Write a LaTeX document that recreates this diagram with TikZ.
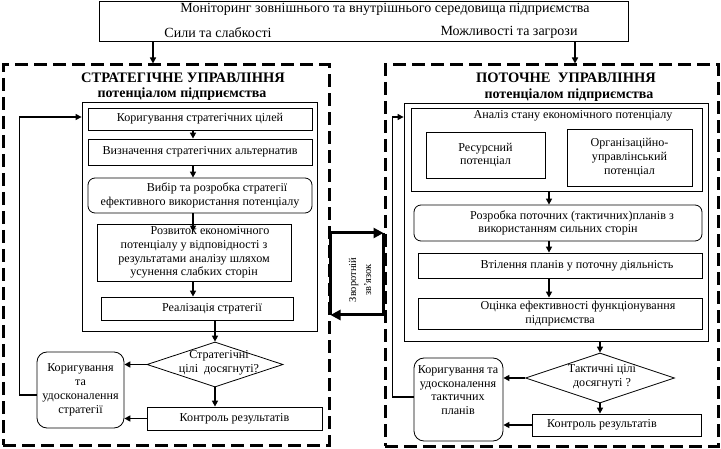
\documentclass[tikz,border=0pt]{standalone}
\usepackage{fontspec}
\setmainfont{Liberation Serif}
\usetikzlibrary{shapes.geometric,arrows.meta,calc}
\newcommand\bodyf{\fontsize{12.1}{13.8}\selectfont}
\newcommand\topf{\fontsize{14}{16}\selectfont}
\newcommand\titf{\fontsize{14.5}{16}\selectfont\bfseries}
\newcommand\subf{\fontsize{14}{15}\selectfont\bfseries}
\newcommand\fbf{\fontsize{10.5}{15}\selectfont}
\begin{document}
\begin{tikzpicture}[x=1pt,y=-1pt,
  box/.style={draw, line width=0.8pt, inner sep=0pt, align=center, font=\bodyf},
  rbox/.style={box, rounded corners=7pt},
  dframe/.style={draw, line width=3pt, dash pattern=on 13pt off 6pt, inner sep=0pt},
  dia/.style={draw, diamond, line width=0.8pt, inner sep=0pt},
  txt/.style={inner sep=0pt, align=center, font=\bodyf},
  arr/.style={line width=1.8pt, -{Triangle[length=6pt,width=6pt]}},
  fb/.style={line width=1.2pt, -{Triangle[length=6pt,width=6pt]}},
  big/.style={line width=3pt, -{Triangle[length=10pt,width=10pt]}},
  heavy/.style={line width=3pt}
]
\useasboundingbox (0,0) rectangle (721,449);
\fill[white] (0,0) rectangle (721,449);

% top box
\node[box, minimum width=529pt, minimum height=40pt] (mon) at (363.5,21) {};
\node[txt, font=\topf] (mont) at (385,9) {Моніторинг зовнішнього та внутрішнього середовища підприємства};
\node[txt, font=\topf] (sila) at (218,33) {Сили та слабкості};
\node[txt, font=\topf] (mozh) at (509,32) {Можливості та загрози};

% dashed frames
\node[dframe, minimum width=326pt, minimum height=380pt] (lf) at (166,255) {};
\node[dframe, minimum width=333pt, minimum height=381pt] (rf) at (551.5,255.5) {};

% titles
\node[txt, font=\titf] (lt1) at (183,77.5) {СТРАТЕГІЧНЕ УПРАВЛІННЯ};
\node[txt, font=\subf] (lt2) at (182,94) {потенціалом підприємства};
\node[txt, font=\titf] (rt1) at (566,77.5) {ПОТОЧНЕ\ \ УПРАВЛІННЯ};
\node[txt, font=\subf] (rt2) at (569,95.5) {потенціалом підприємства};

% left side
\node[box, minimum width=235pt, minimum height=229pt] (li) at (199.5,216.5) {};
\node[box, minimum width=224pt, minimum height=22pt] (b1) at (200,119) {Коригування стратегічних цілей};
\node[box, minimum width=224pt, minimum height=26pt] (b2) at (200,152) {Визначення стратегічних альтернатив};
\node[rbox, minimum width=224pt, minimum height=35pt] (b3) at (200,195.5) {\hspace*{34pt}Вибір та розробка стратегії\\ефективного використання потенціалу};
\node[box, minimum width=194pt, minimum height=57pt] (b4) at (194,252.5) {\hspace*{32pt}Розвиток економічного\\потенціалу у відповідності з\\результатами аналізу шляхом\\усунення слабких сторін};
\node[box, minimum width=192pt, minimum height=23pt] (b5) at (197,308.5) {\hspace*{30pt}Реалізація стратегії};
\node[dia, minimum width=136pt, minimum height=45pt] (d1) at (215,364.5) {};
\node[txt] (d1t) at (219,362.5) {Стратегічні\\цілі\ \ досягнуті?};
\node[box, rounded corners=10pt, minimum width=87pt, minimum height=76pt] (c1) at (80.5,390) {Коригування\\та\\удосконалення\\стратегії};
\node[box, minimum width=175pt, minimum height=23pt] (k1) at (234.5,418.5) {Контроль результатів};

\draw[arr] (153,0 |- mon.south) -- (153,0 |- lf.north);
\draw[arr] (193,0 |- b1.south) -- (193,0 |- b2.north);
\draw[arr] (193,0 |- b2.south) -- (193,0 |- b3.north);
\draw[arr] (193,0 |- b3.south) -- ($(193,0 |- b4.north)+(0,8)$);
\draw[arr] (193,0 |- b4.south) -- (193,0 |- b5.north);
\draw[arr] (d1.north |- b5.south) -- (d1.north);
\draw[arr] (d1.west) -- (c1.east |- d1.west);
\draw[arr] (d1.south) -- (d1.south |- k1.north);
\draw[arr] (k1.west) -- (c1.east |- k1.west);
\draw[fb] ([yshift=-5pt]c1.west) -- ++(-17,0) |- (li.west |- 0,117);

% right side
\node[box, minimum width=304pt, minimum height=238pt] (ri) at (556,222) {};
\node[box, minimum width=291pt, minimum height=83pt] (an) at (556.5,149.5) {};
\node[txt] (ant) at (573,116) {Аналіз стану економічного потенціалу};
\node[box, minimum width=119pt, minimum height=46pt] (res) at (485.5,155) {Ресурсний\\потенціал};
\node[box, minimum width=125pt, minimum height=57pt] (org) at (629.5,157.5) {Організаційно-\\управлінський\\потенціал};
\node[rbox, minimum width=288pt, minimum height=36pt] (roz) at (558,223) {\hspace*{28pt}Розробка поточних (тактичних)планів з\\використанням сильних сторін};
\node[box, minimum width=284pt, minimum height=25pt] (vt) at (560,265.5) {\hspace*{34pt}Втілення планів у поточну діяльність};
\node[box, minimum width=284pt, minimum height=31pt] (oc) at (560,313.5) {\hspace*{36pt}Оцінка ефективності функціонування\\підприємства};
\node[dia, minimum width=149pt, minimum height=50pt] (d2) at (600,378) {};
\node[txt] (d2t) at (602,377) {Тактичні цілі\\досягнуті ?};
\node[box, rounded corners=10pt, minimum width=89pt, minimum height=83pt] (c2) at (458.5,399.5) {};
\node[txt] (c2t) at (458,390) {Коригування та\\удосконалення\\тактичних\\планів};
\node[box, minimum width=169pt, minimum height=22pt] (k2) at (616.5,425) {\hspace*{-29pt}Контроль результатів};

\draw[arr] (575,0 |- mon.south) -- (575,0 |- rf.north);
\draw[arr] (549,0 |- an.south) -- (549,0 |- roz.north);
\draw[arr] (549,0 |- roz.south) -- (549,0 |- vt.north);
\draw[arr] (549,0 |- vt.south) -- (549,0 |- oc.north);
\draw[arr] (d2.north |- ri.south) -- (d2.north);
\draw[arr] (d2.west) -- (c2.east |- d2.west);
\draw[arr] (d2.south) -- (d2.south |- k2.north);
\draw[arr] (k2.west) -- (c2.east |- k2.west);
\draw[fb] ([yshift=2.5pt]c2.west) -- ++(-21,0) |- (ri.west |- 0,117);

% feedback between the two parts
\draw[heavy] (lf.east |- 0,233) -- (lf.east |- 0,315);
\draw[heavy] (rf.west |- 0,233) -- (rf.west |- 0,315);
\draw[big] (lf.east |- 0,233) -- (rf.west |- 0,233);
\draw[big] (rf.west |- 0,315) -- (lf.east |- 0,315);
\node[txt, font=\fbf, rotate=90] (zv) at (360,280) {Зворотній\\зв’язок};
\end{tikzpicture}
\end{document}
